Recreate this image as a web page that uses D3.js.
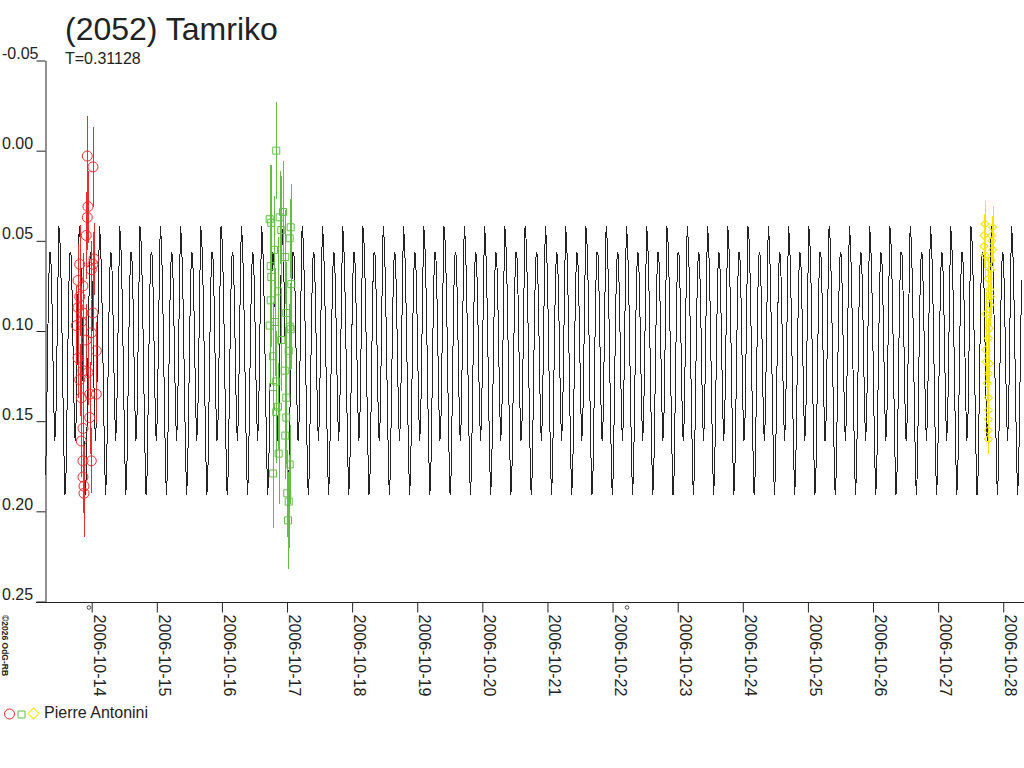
<!DOCTYPE html>
<html>
<head>
<meta charset="utf-8">
<script src="https://cdn.jsdelivr.net/npm/d3@7"></script>
<style>
  html, body { margin: 0; padding: 0; background: #ffffff; }
  svg { display: block; font-family: "Liberation Sans", Arial, sans-serif; }
</style>
</head>
<body>
<script>
// Observation sessions (day of October 2006, UT), magnitudes and errors.
var s1Days = [13.932, 14.020, 13.943, 13.932, 13.917, 14.035, 14.020, 13.816, 13.994, 13.790,
              13.866, 13.816, 13.790, 13.866, 14.020, 13.840, 13.763, 13.994, 13.917, 14.071,
              13.790, 13.866, 13.943, 13.816, 14.071, 13.969, 13.840, 13.969, 13.866, 13.840,
              13.994, 13.866, 13.866, 13.882, 13.882];
var s1Mags = [0.003, 0.009, 0.031, 0.037, 0.047, 0.060, 0.063, 0.063, 0.066, 0.072,
              0.075, 0.081, 0.087, 0.090, 0.090, 0.095, 0.097, 0.101, 0.105, 0.111,
              0.115, 0.122, 0.123, 0.127, 0.135, 0.135, 0.137, 0.148, 0.154, 0.161,
              0.172, 0.172, 0.181, 0.186, 0.190];
var s1Errs = [0.022, 0.022, 0.020, 0.018, 0.024, 0.020, 0.018, 0.022, 0.016, 0.020,
              0.018, 0.022, 0.020, 0.016, 0.018, 0.020, 0.022, 0.018, 0.020, 0.016,
              0.022, 0.020, 0.018, 0.020, 0.016, 0.018, 0.022, 0.020, 0.022, 0.020,
              0.018, 0.024, 0.020, 0.022, 0.024];

var s2Days = [16.835, 16.734, 16.758, 16.938, 16.887, 17.056, 17.041, 16.800, 16.973, 16.749,
              16.758, 17.066, 16.861, 16.749, 16.989, 17.041, 16.734, 16.811, 17.056, 16.912,
              17.026, 16.785, 16.964, 16.835, 16.785, 16.989, 16.861, 16.835, 16.989, 16.973,
              16.872, 17.041, 16.785, 17.004, 17.026, 17.015, 16.912];
var s2Mags = [0.000, 0.038, 0.040, 0.034, 0.037, 0.0425, 0.0486, 0.055, 0.059, 0.064,
              0.070, 0.074, 0.078, 0.083, 0.090, 0.0976, 0.097, 0.095, 0.099, 0.105,
              0.111, 0.114, 0.122, 0.128, 0.131, 0.137, 0.142, 0.145, 0.148, 0.158,
              0.168, 0.174, 0.179, 0.190, 0.1946, 0.205, 0.044];
var s2Errs = [0.027, 0.030, 0.032, 0.028, 0.026, 0.024, 0.022, 0.030, 0.026, 0.034,
              0.028, 0.024, 0.030, 0.026, 0.028, 0.024, 0.032, 0.030, 0.022, 0.028,
              0.026, 0.030, 0.024, 0.028, 0.030, 0.026, 0.024, 0.028, 0.026, 0.024,
              0.028, 0.022, 0.030, 0.024, 0.026, 0.027, 0.030];

var s3Days = [27.720, 27.838, 27.704, 27.823, 27.823, 27.704, 27.838, 27.720, 27.807, 27.807,
              27.771, 27.796, 27.807, 27.796, 27.735, 27.786, 27.771, 27.735, 27.735, 27.786,
              27.771, 27.755, 27.771, 27.771, 27.771, 27.771, 27.771];
var s3Mags = [0.0407, 0.0425, 0.047, 0.047, 0.050, 0.053, 0.055, 0.058, 0.0606, 0.066,
              0.071, 0.077, 0.081, 0.0856, 0.0905, 0.0985, 0.104, 0.1105, 0.117, 0.118,
              0.1235, 0.129, 0.137, 0.144, 0.149, 0.155, 0.160];
var s3Errs = [0.013, 0.012, 0.012, 0.011, 0.012, 0.012, 0.011, 0.012, 0.012, 0.011,
              0.012, 0.011, 0.012, 0.011, 0.012, 0.012, 0.011, 0.012, 0.012, 0.011,
              0.012, 0.011, 0.012, 0.011, 0.012, 0.011, 0.008];

// Model lightcurve: one rotation, phase 0 .. 0.95.
var period = 0.31128;
var epochDay = 18.788;
var modelPhases = [0.00, 0.05, 0.10, 0.15, 0.20, 0.25, 0.30, 0.35, 0.40, 0.45,
                   0.50, 0.55, 0.60, 0.65, 0.70, 0.75, 0.80, 0.85, 0.90, 0.95];
var modelMags = [0.042, 0.049, 0.068, 0.098, 0.135, 0.168, 0.191, 0.180, 0.145, 0.105,
                 0.072, 0.056, 0.058, 0.078, 0.110, 0.142, 0.161, 0.150, 0.115, 0.075];

// Small markers under the time axis.
var markerDays = [13.958, 22.222];

var magTicks = [-0.05, 0.00, 0.05, 0.10, 0.15, 0.20, 0.25];
var dayRange = [13.283, 28.288];

var observer = 'Pierre Antonini';
var title = '(2052) Tamriko';
var subtitle = 'T=0.31128';

function dayToDate(day) {
    // day of October 2006, UT
    return new Date(Date.UTC(2006, 9, 1) + (day - 1) * 86400000);
}

var width = 1024,
    height = 768,
    textColor = '#222222';

var svg = d3.select('body').append('svg')
    .attr('width', width)
    .attr('height', height);

var x = d3.scaleUtc()
    .domain(dayRange.map(dayToDate))
    .range([45, 1022]);

var y = d3.scaleLinear()
    .domain([-0.05, 0.25])
    .range([60.5, 601.5]);

// Title.
svg.append('text')
    .attr('x', 65)
    .attr('y', 40)
    .attr('font-size', '32px')
    .attr('fill', textColor)
    .text(title);

svg.append('text')
    .attr('x', 65)
    .attr('y', 64)
    .attr('font-size', '16px')
    .attr('fill', textColor)
    .text(subtitle);

// Model curve, repeated once per rotation over the whole time span.
var modelPoints = [],
    kFirst = Math.floor((dayRange[0] - epochDay) / period) - 1,
    kLast = Math.ceil((dayRange[1] - epochDay) / period) + 1,
    k, j;
for (k = kFirst; k <= kLast; k = k + 1) {
    for (j = 0; j < modelPhases.length; j = j + 1) {
        var d = epochDay + (k + modelPhases[j]) * period;
        if (d >= dayRange[0] && d <= dayRange[1]) {
            modelPoints.push({date: dayToDate(d), mag: modelMags[j]});
        }
    }
}

svg.append('path')
    .datum(modelPoints)
    .attr('fill', 'none')
    .attr('stroke', '#222222')
    .attr('stroke-width', 1)
    .attr('shape-rendering', 'crispEdges')
    .attr('d', d3.line()
        .x(function (p) { return x(p.date); })
        .y(function (p) { return y(p.mag); }));

// Sessions.
var sessions = [
    {days: s1Days, mags: s1Mags, errs: s1Errs, color: '#ee2a2a', shape: 'circle'},
    {days: s2Days, mags: s2Mags, errs: s2Errs, color: '#62bd45', shape: 'square'},
    {days: s3Days, mags: s3Mags, errs: s3Errs, color: '#f4e600', shape: 'diamond'}
];

var symbols = {
    circle: d3.symbol().type(d3.symbolCircle).size(Math.PI * 25)(),
    square: d3.symbol().type(d3.symbolSquare).size(49)(),
    diamond: d3.symbol().type(d3.symbolSquare).size(32)()
};

sessions.forEach(function (s) {
    var pts = s.days.map(function (d, i) {
        return {date: dayToDate(d), mag: s.mags[i], err: s.errs[i]};
    });
    var g = svg.append('g');

    g.selectAll('line')
        .data(pts)
        .enter().append('line')
        .attr('x1', function (p) { return Math.round(x(p.date)) + 0.5; })
        .attr('x2', function (p) { return Math.round(x(p.date)) + 0.5; })
        .attr('y1', function (p) { return y(p.mag - p.err); })
        .attr('y2', function (p) { return y(p.mag + p.err); })
        .attr('stroke', s.color)
        .attr('stroke-width', 1)
        .attr('shape-rendering', 'crispEdges');

    g.selectAll('path')
        .data(pts)
        .enter().append('path')
        .attr('d', symbols[s.shape])
        .attr('transform', function (p) {
            var t = 'translate(' + x(p.date) + ',' + y(p.mag) + ')';
            return s.shape === 'diamond' ? t + ' rotate(45)' : t;
        })
        .attr('fill', 'none')
        .attr('stroke', s.color)
        .attr('stroke-width', 1);
});

// Y axis.
var yAxis = svg.append('g')
    .attr('transform', 'translate(45.5,0)')
    .call(d3.axisLeft(y)
        .tickValues(magTicks)
        .tickSize(9)
        .tickSizeOuter(0)
        .tickFormat(function (v) { return v.toFixed(2); }));

yAxis.select('.domain').attr('stroke', '#222222');
yAxis.selectAll('.tick line').attr('stroke', '#222222');
yAxis.selectAll('.tick text')
    .attr('x', -43.5)
    .attr('y', -2)
    .attr('dy', 0)
    .attr('text-anchor', 'start')
    .attr('font-size', '16px')
    .attr('font-family', '"Liberation Sans", Arial, sans-serif')
    .attr('fill', textColor);

// X axis.
var xAxis = svg.append('g')
    .attr('transform', 'translate(0,602.5)')
    .call(d3.axisBottom(x)
        .ticks(d3.utcDay.every(1))
        .tickSize(10)
        .tickSizeOuter(0)
        .tickFormat(d3.utcFormat('%Y-%m-%d')));

xAxis.select('.domain').remove();
xAxis.append('line')
    .attr('x1', 36)
    .attr('x2', width)
    .attr('stroke', '#222222');
xAxis.selectAll('.tick line').attr('stroke', '#222222');
xAxis.selectAll('.tick text')
    .attr('transform', 'rotate(90)')
    .attr('x', 12)
    .attr('y', -1.5)
    .attr('dy', 0)
    .attr('text-anchor', 'start')
    .attr('font-size', '16px')
    .attr('font-family', '"Liberation Sans", Arial, sans-serif')
    .attr('fill', textColor);

svg.append('g').selectAll('circle')
    .data(markerDays)
    .enter().append('circle')
    .attr('cx', function (d) { return x(dayToDate(d)); })
    .attr('cy', 607.5)
    .attr('r', 1.8)
    .attr('fill', 'none')
    .attr('stroke', '#222222')
    .attr('stroke-width', 0.8);

// Copyright, vertical.
svg.append('text')
    .attr('transform', 'translate(1.5,615) rotate(90)')
    .attr('font-size', '8.5px')
    .attr('font-weight', 'bold')
    .attr('fill', textColor)
    .text('\u00a92026 OdG-RB');

// Legend.
var legend = svg.append('g');
legend.append('path')
    .attr('d', symbols.circle)
    .attr('transform', 'translate(9.5,714)')
    .attr('fill', 'none')
    .attr('stroke', sessions[0].color);
legend.append('path')
    .attr('d', symbols.square)
    .attr('transform', 'translate(21.5,714.5)')
    .attr('fill', 'none')
    .attr('stroke', sessions[1].color);
legend.append('path')
    .attr('d', d3.symbol().type(d3.symbolSquare).size(60)())
    .attr('transform', 'translate(33.5,713.5) rotate(45)')
    .attr('fill', 'none')
    .attr('stroke', sessions[2].color);
legend.append('text')
    .attr('x', 44)
    .attr('y', 718)
    .attr('font-size', '16px')
    .attr('fill', textColor)
    .text(observer);
</script>
</body>
</html>
